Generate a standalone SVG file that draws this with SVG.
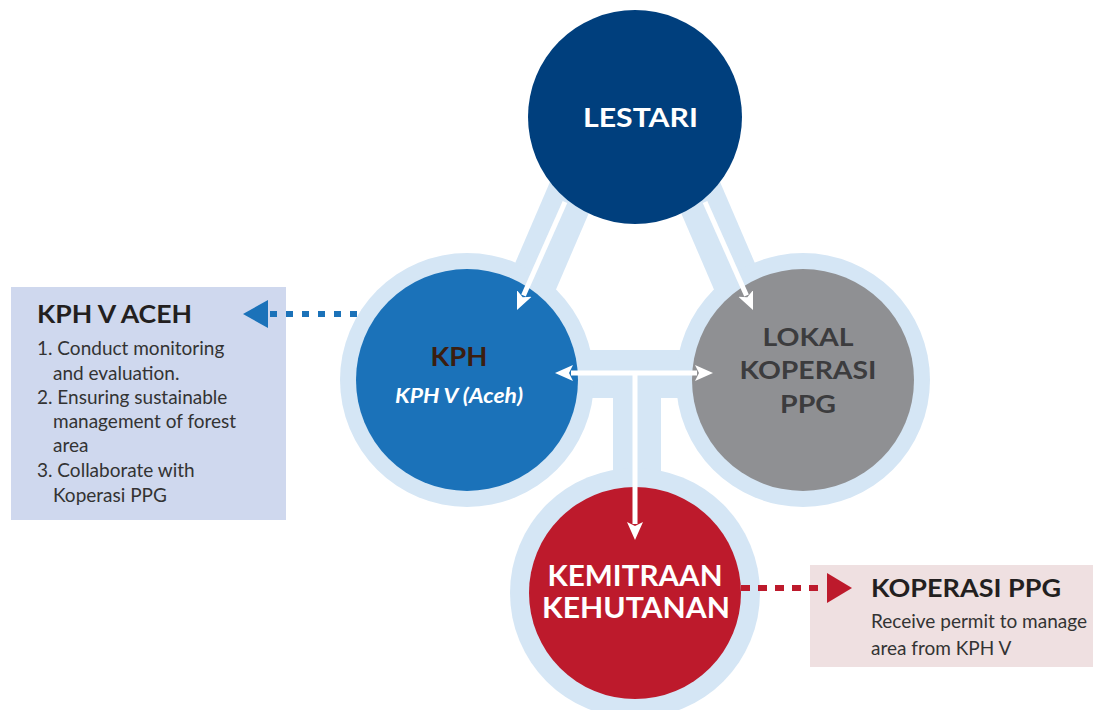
<svg xmlns="http://www.w3.org/2000/svg" width="1100" height="710" viewBox="0 0 1100 710">
<style>
.band{stroke:#d5e6f5;fill:none}
.ring{fill:#d5e6f5}
.wa{stroke:#ffffff;stroke-width:5;fill:none}
.t{font-family:Lato,"Liberation Sans",sans-serif;font-weight:700;text-anchor:middle}
.bx{font-family:Lato,"Liberation Sans",sans-serif;fill:#333333;font-size:19px}
.bt{font-family:Lato,"Liberation Sans",sans-serif;fill:#231f20;font-size:24px;font-weight:700}
</style>
<defs>
<marker id="wh" viewBox="0 -9 18 18" markerWidth="18" markerHeight="18" refX="2" refY="0" orient="auto-start-reverse" markerUnits="userSpaceOnUse">
<path d="M0,-8 L18,0 L0,8 L4,0 Z" fill="#ffffff"/>
</marker>
</defs>
<rect width="1100" height="710" fill="#ffffff"/>
<g id="bands">
<line class="band" x1="604" y1="117" x2="491" y2="380" stroke-width="48"/>
<line class="band" x1="666" y1="117" x2="779" y2="380" stroke-width="48"/>
<rect x="467" y="350" width="336" height="48" fill="#d5e6f5"/>
<rect x="613" y="374" width="48" height="220" fill="#d5e6f5"/>
</g>
<g id="box-kph">
<rect x="11" y="287" width="275" height="233" fill="#cfd8ee"/>
<text class="bt" x="37" y="323" textLength="155" lengthAdjust="spacingAndGlyphs">KPH V ACEH</text>
<text class="bx" x="37" y="355">1. Conduct monitoring</text>
<text class="bx" x="53" y="380">and evaluation.</text>
<text class="bx" x="37" y="404">2. Ensuring sustainable</text>
<text class="bx" x="53" y="428">management of forest</text>
<text class="bx" x="53" y="452">area</text>
<text class="bx" x="37" y="477">3. Collaborate with</text>
<text class="bx" x="53" y="502">Koperasi PPG</text>
</g>
<g id="box-koperasi">
<rect x="810" y="565" width="283" height="102" fill="#efe0e1"/>
<text class="bt" x="871" y="597" textLength="190" lengthAdjust="spacingAndGlyphs">KOPERASI PPG</text>
<text class="bx" x="871" y="628">Receive permit to manage</text>
<text class="bx" x="871" y="655">area from KPH V</text>
</g>
<g id="lestari">
<circle cx="635" cy="117" r="107" fill="#003f7d"/>
<text class="t" x="640.5" y="127" font-size="26" fill="#ffffff" textLength="115" lengthAdjust="spacingAndGlyphs">LESTARI</text>
</g>
<g id="kph">
<circle class="ring" cx="467" cy="380" r="127"/>
<circle cx="467" cy="380" r="111" fill="#1b72b9"/>
<text class="t" x="459" y="366" font-size="27" fill="#3b1e10" textLength="57" lengthAdjust="spacingAndGlyphs">KPH</text>
<text class="t" x="459" y="403" font-size="20" font-style="italic" fill="#ffffff" textLength="128" lengthAdjust="spacingAndGlyphs">KPH V (Aceh)</text>
</g>
<g id="lokal">
<circle class="ring" cx="803" cy="380" r="127"/>
<circle cx="803" cy="380" r="111" fill="#8f9093"/>
<text class="t" x="808" y="346" font-size="25" fill="#3c3c3e" textLength="91" lengthAdjust="spacingAndGlyphs">LOKAL</text>
<text class="t" x="808" y="379" font-size="25" fill="#3c3c3e" textLength="137" lengthAdjust="spacingAndGlyphs">KOPERASI</text>
<text class="t" x="808" y="413" font-size="25" fill="#3c3c3e" textLength="56" lengthAdjust="spacingAndGlyphs">PPG</text>
</g>
<g id="kemitraan">
<circle class="ring" cx="635" cy="593" r="125"/>
<circle cx="635" cy="593" r="106" fill="#bd1a2c"/>
<text class="t" x="635" y="586" font-size="28" fill="#ffffff" textLength="175" lengthAdjust="spacingAndGlyphs">KEMITRAAN</text>
<text class="t" x="636" y="618" font-size="28" fill="#ffffff" textLength="188" lengthAdjust="spacingAndGlyphs">KEHUTANAN</text>
</g>
<g id="connectors">
<line class="wa" x1="565" y1="202" x2="523.5" y2="295.4" marker-end="url(#wh)"/>
<line class="wa" x1="705" y1="202" x2="746.5" y2="295.4" marker-end="url(#wh)"/>
<line class="wa" x1="571" y1="373" x2="697" y2="373" marker-start="url(#wh)" marker-end="url(#wh)"/>
<line class="wa" x1="635" y1="373" x2="635" y2="524" marker-end="url(#wh)"/>
<line x1="270" y1="314" x2="365" y2="314" stroke="#1b72b9" stroke-width="6" stroke-dasharray="7 9"/>
<polygon points="243,314 268,300 268,328" fill="#1b72b9"/>
<line x1="741" y1="588" x2="824" y2="588" stroke="#bd1a2c" stroke-width="6" stroke-dasharray="9 8"/>
<polygon points="852,588 827,573 827,603" fill="#bd1a2c"/>
</g>
</svg>
